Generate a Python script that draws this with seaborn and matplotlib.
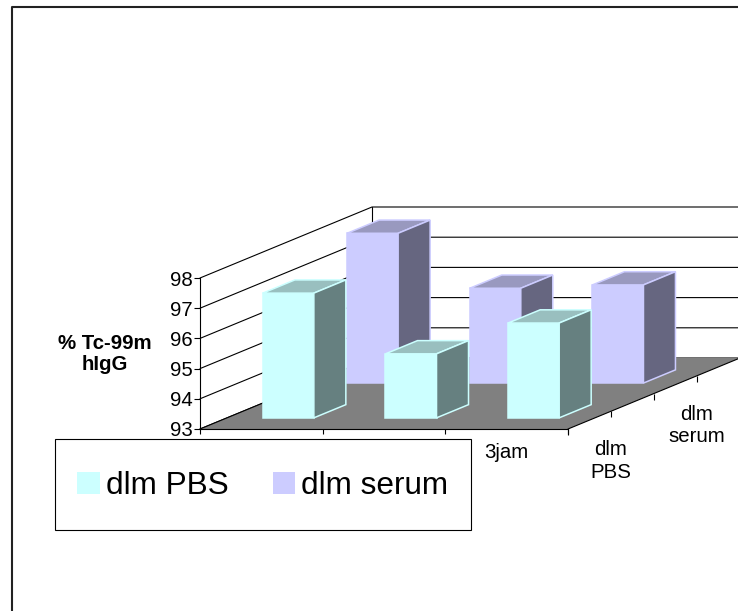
import matplotlib
matplotlib.use("Agg")
import matplotlib.pyplot as plt
import matplotlib.markers as mmarkers
from matplotlib.patches import Polygon, Rectangle, Patch
from matplotlib.lines import Line2D
from matplotlib.transforms import Affine2D, ScaledTranslation
import pandas as pd
import seaborn as sns

# ---- data ---------------------------------------------------------------
waktu = [0, 1, 2]                      # category positions along the front axis
label_waktu = ["", "", "3jam"]          # category tick labels
media = ["dlm PBS", "dlm serum"]        # series / depth rows
persen_pbs = [97.13, 95.12, 96.14]      # % Tc-99m hIgG in PBS
persen_serum = [97.96, 96.14, 96.25]    # % Tc-99m hIgG in serum
sumbu_y = [93, 94, 95, 96, 97, 98]      # value-axis ticks

# ---- style --------------------------------------------------------------
sns.set_theme(style="white")
plt.rcParams["font.family"] = ["Liberation Sans", "DejaVu Sans"]
plt.rcParams["text.color"] = "black"
plt.rcParams["axes.labelcolor"] = "black"
plt.rcParams["xtick.color"] = "black"
plt.rcParams["ytick.color"] = "black"
FS = 14.7

W, H = 738, 611
fig = plt.figure(figsize=(W / 100, H / 100), dpi=100)
fig.patch.set_facecolor("white")
ax = fig.add_axes([200 / W, 1 - 429 / H, 368 / W, 151 / H])
ax.set_facecolor("none")

Y0, Y1 = sumbu_y[0], sumbu_y[-1]
X0, X1 = waktu[0] - 0.5, waktu[-1] + 0.5

# oblique depth direction (data units per unit of depth)
KX = 172 / (368 / 3)
KY = 71 / (151 / 5)


def P(x, y, d):
    return (x + KX * d, y + KY * d)


def shift(d):
    return Affine2D().translate(KX * d, KY * d) + ax.transData


# ---- walls and floor ----------------------------------------------------
ax.add_patch(Polygon([P(X0, Y0, 0), P(X0, Y1, 0), P(X0, Y1, 1), P(X0, Y0, 1)],
                     fc="white", ec="none", zorder=0.5, clip_on=False))
ax.add_patch(Polygon([P(X0, Y0, 1), P(X0, Y1, 1), P(X1, Y1, 1), P(X1, Y0, 1)],
                     fc="white", ec="none", zorder=0.5, clip_on=False))
for yv in sumbu_y:
    pts = [P(X0, yv, 0), P(X0, yv, 1), P(X1, yv, 1)]
    ax.add_line(Line2D([p[0] for p in pts], [p[1] for p in pts], color="black",
                       lw=0.8, zorder=0.8, clip_on=False))
corner = [P(X0, Y0, 1), P(X0, Y1, 1)]
ax.add_line(Line2D([p[0] for p in corner], [p[1] for p in corner], color="black",
                   lw=0.8, zorder=0.8, clip_on=False))

ax.add_patch(Polygon([P(X0, Y0, 0), P(X1, Y0, 0), P(X1, Y0, 1), P(X0, Y0, 1)],
                     fc="#808080", ec="none", zorder=1, clip_on=False))
for a, b in [((X0, Y0, 0), (X0, Y0, 1)), ((X1, Y0, 0), (X1, Y0, 1))]:
    pa, pb = P(*a), P(*b)
    ax.add_line(Line2D([pa[0], pb[0]], [pa[1], pb[1]], color="black", lw=0.8,
                       zorder=1.2, clip_on=False))

# depth-axis ticks along the right floor edge
kedalaman = [0, 0.25, 0.5, 0.75, 1]
ax.plot([P(X1, Y0, d)[0] for d in kedalaman], [P(X1, Y0, d)[1] for d in kedalaman],
        ls="none", marker=mmarkers.TICKDOWN, markersize=4, mew=0.8, color="black",
        clip_on=False, zorder=1.2)

# ---- bars ---------------------------------------------------------------
BAR_W = 0.416
DEP = 0.186
rows = [
    (persen_serum, "#CCCCFF", "#9999BF", "#666680", 0.74, 3),
    (persen_pbs, "#CCFFFF", "#99BFBF", "#668080", 0.25, 4),
]
for vals, c_front, c_top, c_side, dc, z in rows:
    d0, d1 = dc - DEP / 2, dc + DEP / 2
    df = pd.DataFrame({"waktu": waktu, "persen": vals})
    n0 = len(ax.patches)
    sns.barplot(data=df, x="waktu", y="persen", color=c_front, saturation=1,
                width=BAR_W, errorbar=None, ax=ax, transform=shift(d0),
                edgecolor=c_front, linewidth=1.1, zorder=z, clip_on=False)
    for rect in ax.patches[n0:]:
        x, w, v = rect.get_x(), rect.get_width(), rect.get_height()
        rect.set_y(Y0)
        rect.set_height(v - Y0)
        top = [P(x, v, d0), P(x + w, v, d0), P(x + w, v, d1), P(x, v, d1)]
        side = [P(x + w, Y0, d0), P(x + w, Y0, d1), P(x + w, v, d1), P(x + w, v, d0)]
        ax.add_patch(Polygon(top, fc=c_top, ec=c_front, lw=1.1, zorder=z,
                             joinstyle="miter", clip_on=False))
        ax.add_patch(Polygon(side, fc=c_side, ec=c_front, lw=1.1, zorder=z,
                             joinstyle="miter", clip_on=False))

# ---- axes ---------------------------------------------------------------
ax.set_xlim(X0, X1)
ax.set_ylim(Y0, Y1)
ax.set_xlabel("")
ax.set_ylabel("")
for s in ["top", "right"]:
    ax.spines[s].set_visible(False)
for s in ["left", "bottom"]:
    ax.spines[s].set_color("black")
    ax.spines[s].set_linewidth(0.8)
    ax.spines[s].set_zorder(1.3)

ax.set_yticks(sumbu_y)
ax.set_yticklabels([str(v) for v in sumbu_y], fontsize=FS)
ax.tick_params(axis="y", left=True, direction="out", length=4.3, width=0.8,
               pad=1, colors="black")
ax.set_xticks(waktu)
ax.set_xticklabels(label_waktu, fontsize=FS)
ax.set_xticks([X0 + i for i in range(len(waktu) + 1)], minor=True)
ax.tick_params(axis="x", which="major", bottom=True, length=0, pad=10,
               colors="black")
ax.tick_params(axis="x", which="minor", bottom=True, direction="out",
               length=3.6, width=0.8, colors="black")

# depth-axis labels
for d, txt in [(0.25, "dlm\nPBS"), (0.75, "dlm\nserum")]:
    px, py = P(X1, Y0, d)
    ax.text(px, py, txt, ha="center", va="top", fontsize=FS, linespacing=1.25,
            color="black",
            transform=ax.transData + ScaledTranslation(0, -0.29, fig.dpi_scale_trans),
            clip_on=False)

fig.text(104.5 / W, 1 - 354 / H, "% Tc-99m\nhIgG", ha="center", va="center",
         fontsize=FS, fontweight="bold", linespacing=1.15, color="black")

# ---- legend -------------------------------------------------------------
fig.add_artist(Rectangle((55 / W, 1 - 530 / H), 416 / W, 91 / H,
                         transform=fig.transFigure, fc="white", ec="black",
                         lw=0.8, zorder=4))
handles = [Patch(fc="#CCFFFF", ec="none"), Patch(fc="#CCCCFF", ec="none")]
leg = fig.legend(handles, media, loc="center", bbox_to_anchor=(263 / W, 1 - 486 / H),
                 ncol=2, frameon=False, fontsize=22.7, handlelength=0.7,
                 handleheight=0.7, handletextpad=0.21, columnspacing=1.39,
                 borderpad=0, borderaxespad=0, labelcolor="black")
leg.set_zorder(5)

# chart-area border
fig.add_artist(Line2D([12 / W, 12 / W, 1.01], [-0.01, 1 - 7 / H, 1 - 7 / H],
                      transform=fig.transFigure, color="#222222", lw=1.5))

fig.savefig("out.png", dpi=100)
